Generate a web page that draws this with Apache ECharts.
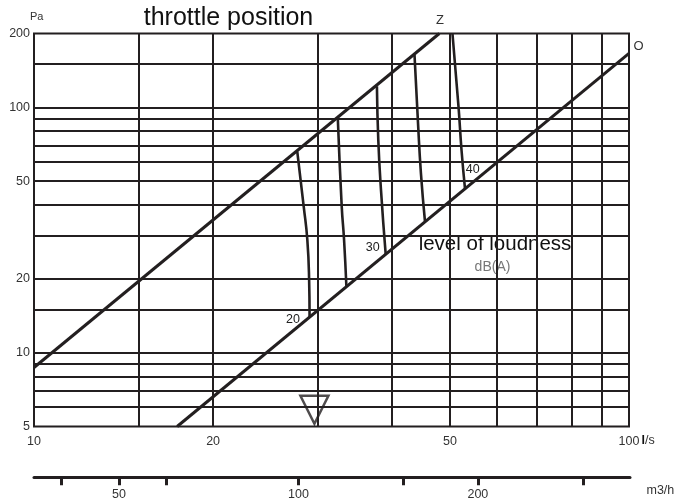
<!DOCTYPE html>
<html>
<head>
<meta charset="utf-8">
<script src="https://cdn.jsdelivr.net/npm/echarts@6/dist/echarts.min.js"></script>
<style>
  html, body { margin: 0; padding: 0; background: #fff; }
  #chart { width: 676px; height: 501px; }
</style>
</head>
<body>
<div id="chart"></div>
<script>
// air flow in l/s (log) against pressure in Pa (log)
const QS_GRID = [15, 20, 30, 40, 50, 60, 70, 80, 90]
const PA_GRID = [6, 7, 8, 9, 10, 15, 20, 30, 40, 50, 60, 70, 80, 90, 100, 150]
const QS_LABELS = [10, 20, 50, 100]
const PA_LABELS = [5, 10, 20, 50, 100, 200]
const M3H_TICKS = [40, 50, 60, 100, 150, 200, 300]
const M3H_LABELS = [50, 100, 200]

// system curves: Z = throttle closed, O = throttle open
const LINE_Z = [[10, 8.7], [48, 200]]
const LINE_O = [[17.4, 5], [100, 166]]

// constant loudness curves between Z and O
const THROTTLE = [
  [[27.7, 66], [28.4, 39.4], [28.8, 28.8], [29.0, 19.8], [29.05, 14.0]],
  [[32.4, 91], [32.9, 39.4], [33.2, 28.8], [33.5, 18.6]],
  [[37.7, 122], [37.9, 73.6], [38.3, 46], [39.0, 25.2]],
  [[43.6, 164], [44.2, 86], [44.7, 53.8], [45.4, 34.4]],
  [[50.5, 200], [51.7, 100.5], [52.3, 67], [53.0, 46.8]],
]
const ARROW = [[29.6, 5.85]]

const INK = '#231f20'
const FONT = 'Liberation Sans, Arial, sans-serif'

const chart = echarts.init(document.getElementById('chart'), null, { renderer: 'canvas' })

const txt = (x, y, text, size, extra) => ({
  type: 'text', x, y, silent: true,
  style: Object.assign({
    text, fontSize: size, fontFamily: FONT, fill: '#222',
    align: 'center', verticalAlign: 'middle',
  }, extra || {}),
})

const series = [
  {
    name: 'grid', type: 'line', z: 1, data: [[10, 5]], showSymbol: false, silent: true,
    lineStyle: { opacity: 0 },
    markLine: {
      silent: true, symbol: 'none', label: { show: false },
      lineStyle: { color: INK, width: 2, type: 'solid' },
      emphasis: { disabled: true },
      data: QS_GRID.map((v) => ({ xAxis: v })).concat(PA_GRID.map((v) => ({ yAxis: v }))),
    },
  },
  {
    name: 'Z', type: 'line', z: 3, data: LINE_Z, showSymbol: false, silent: true,
    lineStyle: { color: INK, width: 3 },
  },
  {
    name: 'O', type: 'line', z: 3, data: LINE_O, showSymbol: false, silent: true,
    lineStyle: { color: INK, width: 3 },
  },
]

THROTTLE.forEach((pts, i) => {
  series.push({
    name: 'throttle ' + i, type: 'line', z: 3, data: pts, smooth: 0.5,
    showSymbol: false, silent: true,
    lineStyle: { color: INK, width: 2.6 },
  })
})

series.push({
  name: 'arrow', type: 'scatter', z: 4, data: ARROW, silent: true,
  symbol: 'triangle', symbolRotate: 180, symbolSize: [28, 28],
  itemStyle: { color: '#fff', borderColor: INK, borderWidth: 2.5 },
})

chart.setOption({
  backgroundColor: '#fff',
  animation: false,
  grid: [
    { left: 34, top: 33.5, width: 595, height: 393, show: true, borderColor: INK, borderWidth: 2, backgroundColor: 'transparent' },
    { left: 34, top: 477, width: 596, height: 1 },
  ],
  xAxis: [
    {
      type: 'log', logBase: 10, min: 10, max: 100,
      axisLine: { show: false }, axisTick: { show: false }, splitLine: { show: false }, minorSplitLine: { show: false },
      axisLabel: {
        customValues: QS_LABELS, color: '#333', fontSize: 12.5, fontFamily: FONT, margin: 9,
      },
    },
    {
      gridIndex: 1, type: 'log', logBase: 10, min: 36, max: 360, position: 'bottom',
      axisLine: { show: true, lineStyle: { color: INK, width: 3 } },
      axisTick: { show: true, customValues: M3H_TICKS, length: 8, lineStyle: { color: INK, width: 3 } },
      splitLine: { show: false },
      axisLabel: { customValues: M3H_LABELS, color: '#333', fontSize: 12.5, fontFamily: FONT, margin: 11 },
    },
  ],
  yAxis: [
    {
      type: 'log', logBase: 10, min: 5, max: 200,
      axisLine: { show: false }, axisTick: { show: false }, splitLine: { show: false }, minorSplitLine: { show: false },
      axisLabel: { customValues: PA_LABELS, color: '#333', fontSize: 12.5, fontFamily: FONT, margin: 4 },
    },
    { gridIndex: 1, type: 'value', show: false },
  ],
  graphic: [
    txt(30, 16.5, 'Pa', 11, { align: 'left', fill: '#333' }),
    txt(228.5, 18.5, 'throttle position', 25, { fill: '#111' }),
    txt(440, 20, 'Z', 13, { fill: '#333' }),
    txt(638.5, 46.5, 'O', 13, { fill: '#333' }),
    txt(293, 320, '20', 12.5),
    txt(372.7, 247.3, '30', 12.5),
    txt(472.7, 170, '40', 12.5),
    txt(495, 244.5, 'level of loudness', 20.5, { fill: '#111' }),
    txt(492.5, 267, 'dB(A)', 14, { fill: '#777' }),
    {
      type: 'text', x: 641.5, y: 441, silent: true,
      style: {
        text: '{b|l}/s', fontSize: 12.5, fontFamily: FONT, fill: '#333', align: 'left', verticalAlign: 'middle',
        rich: { b: { fontWeight: 'bold', fontSize: 12.5, fontFamily: FONT, fill: '#111' } },
      },
    },
    txt(646.5, 491, 'm3/h', 12.5, { align: 'left', fill: '#333' }),
  ],
  series,
})
</script>
</body>
</html>
